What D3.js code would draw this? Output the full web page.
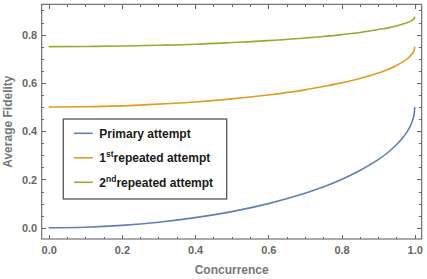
<!DOCTYPE html>
<html lang="en">
<head>
  <meta charset="UTF-8">
  <title>Average Fidelity vs Concurrence</title>
  <style>
    body { margin: 0; background: #fff; }
    svg { display: block; }
    .axis text {
      font: bold 11px "Liberation Sans", Arial, sans-serif;
      fill: #666;
    }
    .axis path, .axis line {
      fill: none;
      stroke: #666;
      shape-rendering: crispEdges;
    }
    .title {
      font: bold 12px "Liberation Sans", Arial, sans-serif;
      fill: #777;
      text-anchor: middle;
    }
    .legend text {
      font: bold 12px "Liberation Sans", Arial, sans-serif;
      fill: #1a1a1a;
    }
  </style>
</head>
<body>
  <svg class="chart"></svg>
  <script src="https://cdn.jsdelivr.net/npm/d3@7"></script>
  <script>
    // values
    var concurrence = [0, 0.1, 0.2, 0.3, 0.4, 0.5, 0.6, 0.7, 0.75, 0.8, 0.85, 0.9, 0.93, 0.95, 0.97, 0.98, 0.99, 0.995, 0.999, 1.0];
    var primary  = [0, 0.0025, 0.010, 0.023, 0.042, 0.067, 0.100, 0.143, 0.169, 0.200, 0.237, 0.282, 0.316, 0.344, 0.378, 0.400, 0.429, 0.450, 0.478, 0.500];
    var repeated1 = [0.500, 0.501, 0.505, 0.512, 0.521, 0.534, 0.550, 0.571, 0.585, 0.600, 0.618, 0.641, 0.658, 0.672, 0.689, 0.700, 0.715, 0.725, 0.739, 0.750];
    var repeated2 = [0.750, 0.751, 0.753, 0.756, 0.760, 0.767, 0.775, 0.786, 0.792, 0.800, 0.809, 0.821, 0.829, 0.836, 0.845, 0.850, 0.857, 0.862, 0.869, 0.875];

    var xTicks = [0, 0.2, 0.4, 0.6, 0.8, 1.0];
    var yTicks = [0, 0.2, 0.4, 0.6, 0.8];
    var xMinor = d3.range(0, 1.001, 0.05);
    var yMinor = d3.range(0, 0.901, 0.05);

    var series = [
      {name: "Primary attempt", values: primary, color: "#5e81b5"},
      {name: "1", sup: "st", rest: "repeated attempt", values: repeated1, color: "#e19c24"},
      {name: "2", sup: "nd", rest: "repeated attempt", values: repeated2, color: "#8fb032"}
    ];

    var width = 427, height = 279;
    var frame = {left: 41.7, right: 421.7, top: 4.3, bottom: 239};

    var svg = d3.select(".chart")
      .attr("width", width)
      .attr("height", height);

    var x = d3.scaleLinear().domain([-0.019, 1.019]).range([frame.left, frame.right]);
    var y = d3.scaleLinear().domain([-0.0464, 0.9255]).range([frame.bottom, frame.top]);

    var fmt = d3.format(".1f");

    // frame
    svg.append("rect")
      .attr("x", frame.left).attr("y", frame.top)
      .attr("width", frame.right - frame.left)
      .attr("height", frame.bottom - frame.top)
      .attr("fill", "none")
      .attr("stroke", "#666")
      .attr("stroke-width", 1.1);

    function ticks(axisFn, scale, vals, size, pos, labels, pad) {
      var a = axisFn(scale).tickValues(vals).tickSizeInner(-size).tickSizeOuter(0).tickPadding(pad || 3);
      a.tickFormat(labels ? fmt : "");
      var g = svg.append("g").attr("class", "axis").attr("transform", pos).call(a);
      g.select(".domain").remove();
      return g;
    }

    ticks(d3.axisBottom, x, xMinor, 2.5, "translate(0," + frame.bottom + ")", false);
    ticks(d3.axisBottom, x, xTicks, 4.5, "translate(0," + frame.bottom + ")", true, 7);
    ticks(d3.axisTop, x, xMinor, 2.5, "translate(0," + frame.top + ")", false);
    ticks(d3.axisTop, x, xTicks, 4.5, "translate(0," + frame.top + ")", false);
    ticks(d3.axisLeft, y, yMinor, 2.5, "translate(" + frame.left + ",0)", false);
    ticks(d3.axisLeft, y, yTicks, 4.5, "translate(" + frame.left + ",0)", true, 4.5);
    ticks(d3.axisRight, y, yMinor, 2.5, "translate(" + frame.right + ",0)", false);
    ticks(d3.axisRight, y, yTicks, 4.5, "translate(" + frame.right + ",0)", false);

    // axis titles
    svg.append("text").attr("class", "title")
      .attr("x", (frame.left + frame.right) / 2).attr("y", 274)
      .text("Concurrence");
    svg.append("text").attr("class", "title")
      .attr("transform", "translate(12," + (frame.top + frame.bottom) / 2 + ") rotate(-90)")
      .text("Average Fidelity");

    // curves
    var line = d3.line()
      .x(function(d) { return x(d[0]); })
      .y(function(d) { return y(d[1]); })
      .curve(d3.curveMonotoneX);

    svg.append("g").selectAll("path")
      .data(series)
      .enter().append("path")
      .attr("d", function(s) {
        return line(concurrence.map(function(c, i) { return [c, s.values[i]]; }));
      })
      .attr("fill", "none")
      .attr("stroke", function(s) { return s.color; })
      .attr("stroke-width", 1.6);

    // legend
    var legend = svg.append("g").attr("class", "legend");
    legend.append("rect")
      .attr("x", 63.3).attr("y", 119)
      .attr("width", 163.4).attr("height", 80)
      .attr("fill", "#fff")
      .attr("stroke", "#555")
      .attr("stroke-width", 1.3);

    var item = legend.selectAll(".item")
      .data(series)
      .enter().append("g")
      .attr("class", "item")
      .attr("transform", function(d, i) { return "translate(74," + (133.3 + i * 24.5) + ")"; });

    item.append("line")
      .attr("x1", 0).attr("x2", 18.7)
      .attr("stroke", function(d) { return d.color; })
      .attr("stroke-width", 1.6);

    var label = item.append("text")
      .attr("x", 25.3)
      .attr("y", 4.3);
    label.append("tspan").text(function(d) { return d.name; });
    label.filter(function(d) { return d.sup; }).append("tspan")
      .attr("dy", -5).attr("font-size", "8.5px")
      .text(function(d) { return d.sup; });
    label.filter(function(d) { return d.sup; }).append("tspan")
      .attr("dy", 5)
      .text(function(d) { return d.rest; });
  </script>
</body>
</html>
